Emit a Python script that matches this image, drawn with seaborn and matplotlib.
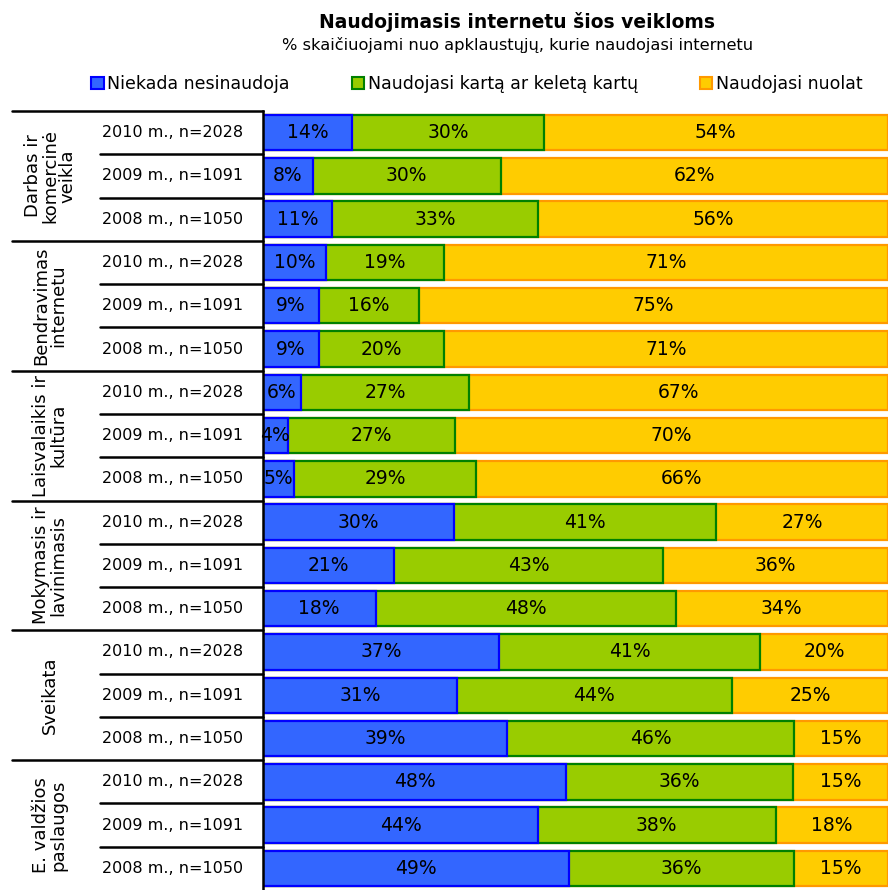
import numpy as np
import pandas as pd
import matplotlib
matplotlib.use('Agg')
import matplotlib.pyplot as plt
import matplotlib.transforms as mtransforms
from matplotlib.patches import Patch
import seaborn as sns

groups = ['Darbas ir\nkomercinė\nveikla', 'Bendravimas\ninternetu', 'Laisvalaikis ir\nkultūra',
          'Mokymasis ir\nlavinimasis', 'Sveikata', 'E. valdžios\npaslaugos']
years = ['2010 m., n=2028', '2009 m., n=1091', '2008 m., n=1050']
series = ['Niekada nesinaudoja', 'Naudojasi kartą ar keletą kartų', 'Naudojasi nuolat']

niekada = [14, 8, 11, 10, 9, 9, 6, 4, 5, 30, 21, 18, 37, 31, 39, 48, 44, 49]
karta = [30, 30, 33, 19, 16, 20, 27, 27, 29, 41, 43, 48, 41, 44, 46, 36, 38, 36]
nuolat = [54, 62, 56, 71, 75, 71, 67, 70, 66, 27, 36, 34, 20, 25, 15, 15, 18, 15]

fills = ['#3366FF', '#99CC00', '#FFCC00']
edges = ['#0000FF', '#008000', '#FF9900']

rows = []
for gi, g in enumerate(groups):
    for yi, y in enumerate(years):
        rows.append({'group': g, 'year': y, 'key': f'{gi}-{yi}'})
df = pd.DataFrame(rows)
vals = np.array([niekada, karta, nuolat], dtype=float)
tot = vals.sum(axis=0)
share = vals / tot * 100  # 100% stacked, as in Excel
cum = np.cumsum(share, axis=0)
for k in range(3):
    df[f'c{k}'] = cum[k]

sns.set_style('white')
plt.rcParams['font.family'] = ['DejaVu Sans']
plt.rcParams['text.color'] = 'black'

fig = plt.figure(figsize=(8.88, 8.90), dpi=100)
ax = fig.add_axes([263 / 888, 0.0, 1 - 263 / 888, 1 - 111 / 890])

order = list(df['key'])
# draw largest cumulative first, smaller ones on top
for k in [2, 1, 0]:
    sns.barplot(data=df, x=f'c{k}', y='key', order=order, orient='h', color=fills[k],
                edgecolor=edges[k], linewidth=1.6, width=0.82, saturation=1, ax=ax)

for i in range(len(df)):
    start = 0
    for k in range(3):
        mid = start + share[k, i] / 2
        ax.text(mid, i, f'{int(vals[k, i])}%', ha='center', va='center', fontsize=13.5, color='black')
        start = cum[k, i]

ax.set_xlim(0, 100)
ax.set_ylim(len(df) - 0.5, -0.5)
ax.set_xlabel('')
ax.set_ylabel('')
ax.set_xticks([])
ax.set_yticks([])
for s in ['top', 'right', 'bottom']:
    ax.spines[s].set_visible(False)
ax.spines['left'].set_color('black')
ax.spines['left'].set_linewidth(1.8)

# table on the left
tr = mtransforms.blended_transform_factory(fig.transFigure, ax.transData)
for i in range(len(df)):
    yb = i - 0.5
    x0 = 12 / 888 if i % 3 == 0 else 100 / 888
    ax.plot([x0, 263 / 888], [yb, yb], color='black', lw=1.8, transform=tr, clip_on=False)
    ax.text(102 / 888, i, years[i % 3], ha='left', va='center', fontsize=11.5, transform=tr)
for gi, g in enumerate(groups):
    ax.text(50 / 888, gi * 3 + 1, g, ha='center', va='center', rotation=90, fontsize=13,
            linespacing=0.95, transform=tr)

fig.text(517 / 888, 1 - 22 / 890, 'Naudojimasis internetu šios veikloms', ha='center', va='center',
         fontsize=13.5, fontweight='bold')
fig.text(518 / 888, 1 - 45 / 890, '% skaičiuojami nuo apklaustųjų, kurie naudojasi internetu',
         ha='center', va='center', fontsize=11.7)

handles = [Patch(facecolor=fills[k], edgecolor=edges[k], linewidth=1.5) for k in range(3)]
fig.legend(handles, series, loc='center', bbox_to_anchor=(477 / 888, 1 - 84 / 890), ncol=3,
           frameon=False, fontsize=12.5, handlelength=0.7, handleheight=0.7, handletextpad=0.2,
           columnspacing=3.6)

fig.savefig('out.png', dpi=100)
